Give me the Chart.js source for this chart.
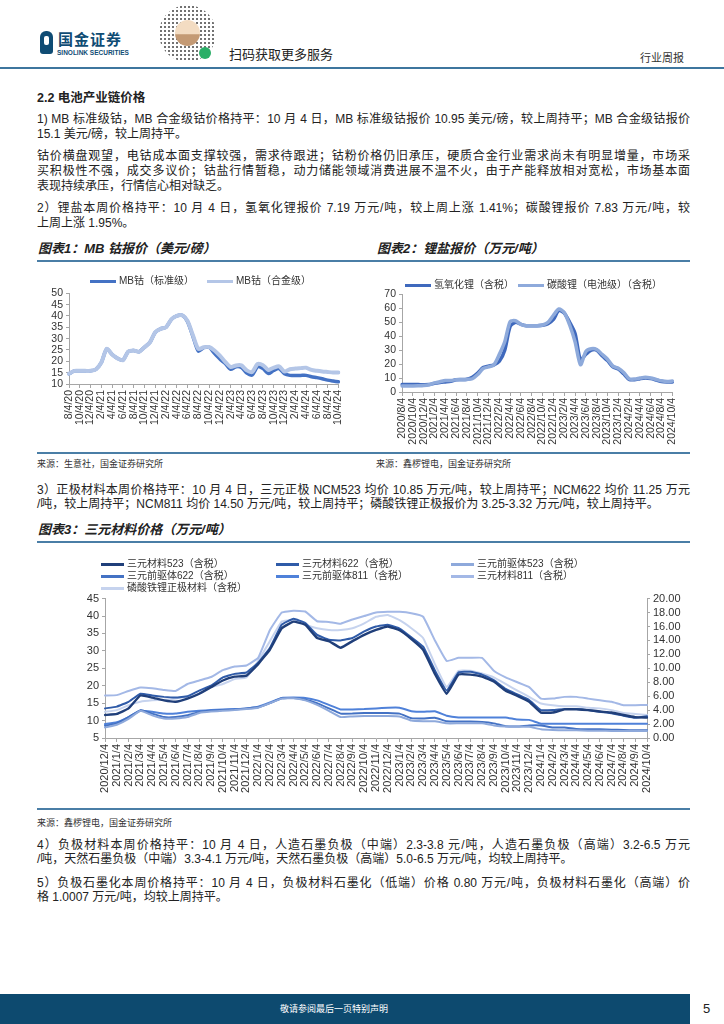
<!DOCTYPE html>
<html lang="zh-CN">
<head>
<meta charset="utf-8">
<title>电池产业链价格</title>
<script src="https://cdn.jsdelivr.net/npm/chart.js@4.4.1/dist/chart.umd.min.js"></script>
<style>
  html, body { margin: 0; padding: 0; }
  body {
    width: 724px; height: 1024px; position: relative; overflow: hidden; background: #fff;
    font-family: "Liberation Sans", Arial, "Noto Sans CJK SC", sans-serif; color: #222;
  }
  .abs { position: absolute; }
  .t {
    position: absolute; left: 37px; width: 653px; height: 15px; font-size: 12px; line-height: 15px;
    white-space: nowrap; text-align: justify; text-align-last: justify;
  }
  .t.end { text-align: left; text-align-last: left; }
  .cap { position: absolute; font-size: 13px; font-weight: bold; font-style: italic; line-height: 16px; white-space: nowrap; }
  .rule { position: absolute; height: 2px; background: #4a7ea6; }
  .src { position: absolute; font-size: 9px; line-height: 12px; color: #333; white-space: nowrap; }
  .lg { position: absolute; font-size: 10px; line-height: 12px; color: #333; white-space: nowrap; }
  .sw { position: absolute; height: 3px; }
  canvas { position: absolute; }
</style>
</head>
<body>

<!-- header -->
<div class="abs" style="left:40px;top:31px;width:13px;height:23px;background:#0f4c74;border-radius:6px 6px 3px 3px;"></div>
<div class="abs" style="left:44px;top:36px;width:5px;height:9px;background:#fff;border-radius:2px;"></div>
<div class="abs" style="left:58px;top:31px;font-size:15px;font-weight:bold;color:#0f4c74;line-height:18px;letter-spacing:1px;">国金证券</div>
<div class="abs" style="left:57px;top:49px;font-size:6.5px;font-weight:bold;color:#0f4c74;line-height:8px;">SINOLINK SECURITIES</div>
<div class="abs" style="left:159px;top:5px;width:57px;height:57px;border-radius:50%;background-image:radial-gradient(#444 35%, transparent 40%);background-size:4px 4px;opacity:0.75;"></div>
<div class="abs" style="left:175px;top:20px;width:25px;height:26px;border-radius:50%;background:linear-gradient(#f3dcc2 55%, #c49a74 56%);"></div>
<div class="abs" style="left:199px;top:47px;width:12px;height:12px;border-radius:50%;background:#2aae67;"></div>
<div class="abs" style="left:229px;top:47px;font-size:13px;line-height:15px;">扫码获取更多服务</div>
<div class="abs" style="left:640px;top:52px;font-size:11px;line-height:13px;color:#333;">行业周报</div>
<div class="abs" style="left:0;top:67px;width:724px;height:2px;background:#3e769e;"></div>

<!-- text block 1 -->
<div class="abs" style="left:37px;top:90px;font-size:12.5px;font-weight:bold;line-height:16px;">2.2 电池产业链价格</div>
<div class="t" style="top:112px;">1) MB 标准级钴，MB 合金级钴价格持平：10 月 4 日，MB 标准级钴报价 10.95 美元/磅，较上周持平；MB 合金级钴报价</div>
<div class="t end" style="top:127px;">15.1 美元/磅，较上周持平。</div>
<div class="t" style="top:149px;">钴价横盘观望，电钴成本面支撑较强，需求待跟进；钴粉价格仍旧承压，硬质合金行业需求尚未有明显增量，市场采</div>
<div class="t" style="top:164px;">买积极性不强，成交多议价；钴盐行情暂稳，动力储能领域消费进展不温不火，由于产能释放相对宽松，市场基本面</div>
<div class="t end" style="top:179px;">表现持续承压，行情信心相对缺乏。</div>
<div class="t" style="top:201px;">2）锂盐本周价格持平：10 月 4 日，氢氧化锂报价 7.19 万元/吨，较上周上涨 1.41%；碳酸锂报价 7.83 万元/吨，较</div>
<div class="t end" style="top:216px;">上周上涨 1.95%。</div>

<div class="cap" style="left:38px;top:241px;">图表1：MB 钴报价（美元/磅）</div>
<div class="cap" style="left:377px;top:241px;">图表2：锂盐报价（万元/吨）</div>
<div class="rule" style="left:37px;top:260px;width:653px;"></div>

<canvas id="cobaltChart" width="316" height="164" style="left:37px;top:284px;"></canvas>
<canvas id="lithiumChart" width="317" height="160" style="left:370px;top:285px;"></canvas>

<div class="rule" style="left:37px;top:452px;width:653px;"></div>
<div class="src" style="left:37px;top:458px;">来源：生意社，国金证券研究所</div>
<div class="src" style="left:376px;top:458px;">来源：鑫椤锂电，国金证券研究所</div>

<!-- text block 2 -->
<div class="t" style="top:483px;">3）正极材料本周价格持平：10 月 4 日，三元正极 NCM523 均价 10.85 万元/吨，较上周持平；NCM622 均价 11.25 万元</div>
<div class="t end" style="top:497px;">/吨，较上周持平；NCM811 均价 14.50 万元/吨，较上周持平；磷酸铁锂正极报价为 3.25-3.32 万元/吨，较上周持平。</div>

<div class="cap" style="left:38px;top:522px;">图表3：三元材料价格（万元/吨）</div>
<div class="rule" style="left:37px;top:541px;width:653px;"></div>

<canvas id="cathodeChart" width="617" height="211" style="left:75px;top:589px;"></canvas>

<div class="rule" style="left:37px;top:808px;width:653px;"></div>
<div class="src" style="left:37px;top:817px;">来源：鑫椤锂电，国金证券研究所</div>

<div class="t" style="top:838px;">4）负极材料本周价格持平：10 月 4 日，人造石墨负极（中端）2.3-3.8 元/吨，人造石墨负极（高端）3.2-6.5 万元</div>
<div class="t end" style="top:852px;">/吨，天然石墨负极（中端）3.3-4.1 万元/吨，天然石墨负极（高端）5.0-6.5 万元/吨，均较上周持平。</div>
<div class="t" style="top:876px;">5）负极石墨化本周价格持平：10 月 4 日，负极材料石墨化（低端）价格 0.80 万元/吨，负极材料石墨化（高端）价</div>
<div class="t end" style="top:890px;">格 1.0007 万元/吨，均较上周持平。</div>

<!-- footer -->
<div class="abs" style="left:0;top:994px;width:690px;height:30px;background:#0d4a6f;"></div>
<div class="abs" style="left:0;top:1003px;width:668px;text-align:center;font-size:9px;line-height:12px;color:#fff;">敬请参阅最后一页特别声明</div>
<div class="abs" style="left:703px;top:1001px;font-size:13px;line-height:15px;">5</div>

<script>
// months shared by chart 1 and 2 (2020/8 - 2024/10)
const months = [
  '2020/8/4', '2020/9/4', '2020/10/4', '2020/11/4', '2020/12/4',
  '2021/1/4', '2021/2/4', '2021/3/4', '2021/4/4', '2021/5/4', '2021/6/4',
  '2021/7/4', '2021/8/4', '2021/9/4', '2021/10/4', '2021/11/4', '2021/12/4',
  '2022/1/4', '2022/2/4', '2022/3/4', '2022/4/4', '2022/5/4', '2022/6/4',
  '2022/7/4', '2022/8/4', '2022/9/4', '2022/10/4', '2022/11/4', '2022/12/4',
  '2023/1/4', '2023/2/4', '2023/3/4', '2023/4/4', '2023/5/4', '2023/6/4',
  '2023/7/4', '2023/8/4', '2023/9/4', '2023/10/4', '2023/11/4', '2023/12/4',
  '2024/1/4', '2024/2/4', '2024/3/4', '2024/4/4', '2024/5/4', '2024/6/4',
  '2024/7/4', '2024/8/4', '2024/9/4', '2024/10/4'
];
// chart 1 uses m/d/yy labels
const cobaltLabels = months.map(s => {
  const p = s.split('/');
  return p[1] + '/' + p[2] + '/' + p[0].slice(2);
});
// chart 3 starts at 2020/12/4
const cathodeMonths = months.slice(4);

// 图表1 MB钴 (美元/磅)
const cobaltStd = [
  14.5, 15.8, 15.8, 15.8, 15.8, 16.5, 19.5, 25.5, 23.0, 21.3,
  20.5, 24.3, 24.8, 24.2, 26.2, 28.3, 32.8, 34.3, 35.0, 38.5,
  40.0, 40.3, 37.5, 31.0, 24.5, 26.0, 26.2, 23.5, 21.0, 19.0,
  16.5, 17.6, 17.3, 14.8, 14.0, 17.6, 16.8, 14.6, 16.0, 16.8,
  14.5, 13.8, 13.8, 13.8, 13.8, 13.2, 12.8, 12.3, 11.7, 11.3,
  10.95
];
const cobaltAlloy = [
  14.5, 15.8, 15.8, 15.8, 15.8, 16.5, 19.5, 25.5, 23.0, 21.3,
  20.5, 24.3, 24.8, 24.2, 26.2, 28.3, 32.8, 34.3, 35.0, 38.5,
  40.0, 40.3, 37.8, 31.5, 25.5, 26.2, 26.3, 24.8, 22.5, 19.8,
  17.5, 18.2, 18.2, 16.0, 15.3, 18.8, 18.3, 16.2, 17.2, 17.8,
  15.5, 16.5, 16.8, 17.0, 17.2, 16.2, 15.8, 15.5, 15.3, 15.1,
  15.1
];

// 图表2 锂盐 (万元/吨)
const lithiumHydroxide = [
  5.3, 5.3, 5.3, 5.3, 5.2, 5.3, 6.2, 6.8, 7.2, 7.6,
  8.8, 9.0, 9.2, 10.5, 13.5, 17.5, 18.5, 19.5, 22.0, 30.0,
  47.0, 50.0, 48.5, 47.5, 47.5, 47.5, 47.8, 49.0, 52.0, 58.5,
  56.5, 50.0, 42.0, 23.0, 27.0, 30.0, 30.0, 26.0, 22.5, 18.0,
  16.5, 13.0, 9.0, 8.8, 9.5, 10.0, 9.6, 8.6, 7.5, 7.2,
  7.19
];
const lithiumCarbonate = [
  4.3, 4.3, 4.3, 4.4, 4.6, 5.2, 6.5, 7.3, 8.3, 8.2,
  8.8, 8.8, 9.0, 9.5, 12.5, 16.8, 18.0, 19.5, 27.0, 36.0,
  50.5, 51.0, 48.5, 47.5, 47.5, 47.5, 48.0, 50.0, 55.0, 59.5,
  57.0, 48.0, 36.0, 19.5, 29.0, 31.0, 30.5, 27.0, 23.5, 18.5,
  17.0, 14.0, 9.5, 9.3, 10.0, 10.5, 10.0, 9.0, 8.0, 7.5,
  7.83
];

// 图表3 三元材料 (万元/吨), left axis
const ncm523 = [
  11.6, 11.9, 13.5, 17.2, 16.6, 15.8, 15.4, 16.3, 17.7, 19.6,
  21.5, 22.6, 22.9, 26.2, 30.4, 36.5, 38.4, 37.5, 33.7, 32.8,
  30.9, 32.8, 34.6, 36.0, 37.0, 35.9, 33.4, 30.3, 23.4, 17.7,
  23.2, 23.2, 22.6, 21.2, 18.6, 17.1, 15.4, 12.3, 12.3, 13.2,
  13.2, 13.0, 12.6, 12.3, 11.6, 11.0, 10.85
];
const ncm622 = [
  13.5, 14.0, 15.4, 17.7, 17.2, 16.8, 16.6, 17.0, 18.6, 20.0,
  22.4, 23.4, 23.8, 26.6, 30.9, 37.5, 39.2, 38.0, 34.6, 33.2,
  33.0, 33.7, 35.6, 37.0, 37.5, 36.4, 33.9, 31.2, 24.4, 18.6,
  23.8, 24.0, 23.2, 21.6, 19.1, 17.5, 15.9, 13.0, 13.0, 13.3,
  13.3, 13.0, 12.5, 12.1, 11.4, 10.8, 11.25
];
const pre523 = [
  8.0, 8.8, 10.5, 12.8, 11.5, 10.6, 10.6, 11.0, 12.2, 12.6,
  12.8, 13.0, 13.3, 13.7, 15.0, 16.3, 16.4, 15.8, 14.5, 12.8,
  11.0, 11.2, 11.3, 11.3, 11.3, 11.2, 10.0, 9.8, 9.8, 9.2,
  9.2, 9.2, 9.2, 8.6, 8.3, 8.3, 8.2, 7.5, 7.3, 7.2,
  7.2, 7.1, 7.1, 7.0, 7.0, 7.0, 7.0
];
const pre622 = [
  8.5, 9.2, 11.0, 13.0, 12.0, 11.0, 11.0, 11.5, 12.5, 12.8,
  13.0, 13.2, 13.5, 13.8, 15.0, 16.4, 16.5, 16.0, 15.0, 13.5,
  12.0, 12.0, 12.2, 12.2, 12.2, 12.0, 10.7, 10.6, 10.8, 9.8,
  9.7, 9.7, 9.6, 9.2, 8.4, 8.3, 8.6, 8.6, 8.0, 8.0,
  7.6, 7.5, 7.5, 7.4, 7.3, 7.2, 7.2
];
const pre811 = [
  9.0, 9.5, 11.0, 12.8, 12.5, 12.0, 12.0, 12.5, 12.8, 13.0,
  13.2, 13.3, 13.5, 14.0, 15.2, 16.5, 16.6, 16.5, 15.8, 14.5,
  13.2, 13.2, 13.3, 13.5, 13.7, 13.7, 12.7, 12.5, 12.7, 11.4,
  10.9, 10.9, 10.9, 10.9, 10.9, 10.3, 10.2, 9.1, 9.1, 9.1,
  9.1, 9.1, 9.1, 9.1, 9.1, 9.1, 9.1
];
const ncm811 = [
  17.2, 17.3, 18.5, 19.5, 19.3, 18.8, 18.5, 20.5, 21.5, 22.5,
  24.5, 25.5, 25.8, 28.0, 36.0, 41.0, 41.5, 41.3, 38.5, 38.3,
  37.8, 39.0, 40.0, 41.0, 41.2, 41.2, 40.8, 39.8, 33.0, 27.1,
  28.0, 28.0, 28.0, 24.3, 22.4, 21.0, 19.6, 16.3, 16.3, 16.8,
  16.8, 16.3, 15.8, 15.4, 14.4, 14.4, 14.5
];
// 磷酸铁锂 on the right axis
const lfp = [
  3.75, 4.0, 4.7, 5.2, 5.4, 5.5, 5.65, 5.9, 6.35, 7.3,
  7.75, 8.45, 8.7, 11.05, 13.9, 16.7, 16.95, 16.25, 15.75, 15.5,
  15.5, 15.75, 16.45, 17.4, 17.65, 16.9, 15.75, 14.35, 10.6, 7.3,
  9.65, 9.65, 9.25, 8.7, 7.75, 6.8, 5.9, 4.95, 4.7, 4.55,
  4.55, 4.35, 4.25, 4.0, 3.6, 3.45, 3.3
];

const axisColor = '#a6a6a6';
const font = size => ({ family: "'Liberation Sans', Arial, sans-serif", size: size });

function yAxis(min, max, step, width, pos, size, fmt) {
  const ticks = { stepSize: step, autoSkip: false, color: '#333', font: font(size), padding: 3 };
  if (fmt) ticks.callback = fmt;
  return {
    position: pos, min: min, max: max,
    border: { display: true, color: axisColor },
    grid: { drawOnChartArea: false, drawTicks: true, tickLength: 3, color: axisColor },
    ticks: ticks,
    afterFit: s => { s.width = width; }
  };
}

function xAxis(height, everyOther, size) {
  const shown = i => !everyOther || i % 2 === 0;
  return {
    offset: false,
    border: { display: true, color: axisColor },
    grid: {
      drawOnChartArea: false, drawTicks: true, tickLength: 4,
      color: c => shown(c.index) ? axisColor : 'rgba(0,0,0,0)'
    },
    ticks: {
      autoSkip: false, maxRotation: 90, minRotation: 90, color: '#333', font: font(size), padding: 2,
      callback: function (v, i) { return shown(i) ? this.getLabelForValue(v) : ''; }
    },
    afterFit: s => { s.height = height; }
  };
}

function line(label, data, color, width, extra) {
  return Object.assign({
    label: label, data: data, borderColor: color, backgroundColor: color,
    borderWidth: width, pointRadius: 0, tension: 0.25, fill: false,
    borderJoinStyle: 'round', borderCapStyle: 'round'
  }, extra || {});
}

function baseOptions(scales, padRight) {
  return {
    responsive: false, animation: false, devicePixelRatio: 1,
    layout: { padding: { top: 8, right: padRight, left: 0, bottom: 0 } },
    plugins: { legend: { display: false }, tooltip: { enabled: false } },
    scales: scales
  };
}

function legendItem(text, color, x, y, swW) {
  const sw = document.createElement('div');
  sw.className = 'sw';
  sw.style.cssText = 'left:' + x + 'px;top:' + (y - 1.5) + 'px;width:' + swW + 'px;background:' + color + ';';
  document.body.appendChild(sw);
  const lb = document.createElement('div');
  lb.className = 'lg';
  lb.style.cssText = 'left:' + (x + swW + 3) + 'px;top:' + (y - 6) + 'px;';
  lb.textContent = text;
  document.body.appendChild(lb);
}

// 图表1
const stdColor = '#4472c4', alloyColor = '#b4c6e7';
new Chart(document.getElementById('cobaltChart'), {
  type: 'line',
  data: {
    labels: cobaltLabels,
    datasets: [
      line('MB钴（标准级）', cobaltStd, stdColor, 3.5, { order: 1 }),
      line('MB钴（合金级）', cobaltAlloy, alloyColor, 4, { order: 0 })
    ]
  },
  options: baseOptions({ x: xAxis(64, true, 10.5), y: yAxis(10, 50, 5, 32, 'left', 10.5) }, 10)
});
legendItem('MB钴（标准级）', stdColor, 90, 281, 26);
legendItem('MB钴（合金级）', alloyColor, 207, 281, 26);

// 图表2
const lioColor = '#3f69bd', lcColor = '#8eaadb';
new Chart(document.getElementById('lithiumChart'), {
  type: 'line',
  data: {
    labels: months,
    datasets: [
      line('氢氧化锂（含税）', lithiumHydroxide, lioColor, 3.5, { order: 1 }),
      line('碳酸锂（电池级）（含税）', lithiumCarbonate, lcColor, 3.5, { order: 0 })
    ]
  },
  options: baseOptions({ x: xAxis(53, true, 10.5), y: yAxis(0, 70, 10, 32, 'left', 10.5) }, 10)
});
legendItem('氢氧化锂（含税）', lioColor, 405, 285, 26);
legendItem('碳酸锂（电池级）（含税）', lcColor, 518, 285, 26);

// 图表3
const cathodeSeries = [
  { label: '三元材料523（含税）', data: ncm523, color: '#203f7a', w: 2.4, axis: 'y' },
  { label: '三元材料622（含税）', data: ncm622, color: '#2f5ba8', w: 2, axis: 'y' },
  { label: '三元前驱体523（含税）', data: pre523, color: '#8ea9db', w: 2, axis: 'y' },
  { label: '三元前驱体622（含税）', data: pre622, color: '#4472c4', w: 2, axis: 'y' },
  { label: '三元前驱体811（含税）', data: pre811, color: '#4f81d9', w: 2, axis: 'y' },
  { label: '三元材料811（含税）', data: ncm811, color: '#a3b8e6', w: 2, axis: 'y' },
  { label: '磷酸铁锂正极材料（含税）', data: lfp, color: '#c6d3ee', w: 2, axis: 'y2' }
];
new Chart(document.getElementById('cathodeChart'), {
  type: 'line',
  data: {
    labels: cathodeMonths,
    datasets: cathodeSeries.map(s => line(s.label, s.data, s.color, s.w, { yAxisID: s.axis, tension: 0.1 }))
  },
  options: baseOptions({
    x: xAxis(62, false, 11),
    y: yAxis(5, 45, 5, 30, 'left', 11),
    y2: yAxis(0, 20, 2, 45, 'right', 11, v => v.toFixed(2))
  }, 0)
});
const legendCols = [101, 276, 451];
const legendRows = [564, 576, 588];
cathodeSeries.forEach((s, i) => {
  legendItem(s.label, s.color, legendCols[i % 3], legendRows[Math.floor(i / 3)], 23);
});
</script>
</body>
</html>
